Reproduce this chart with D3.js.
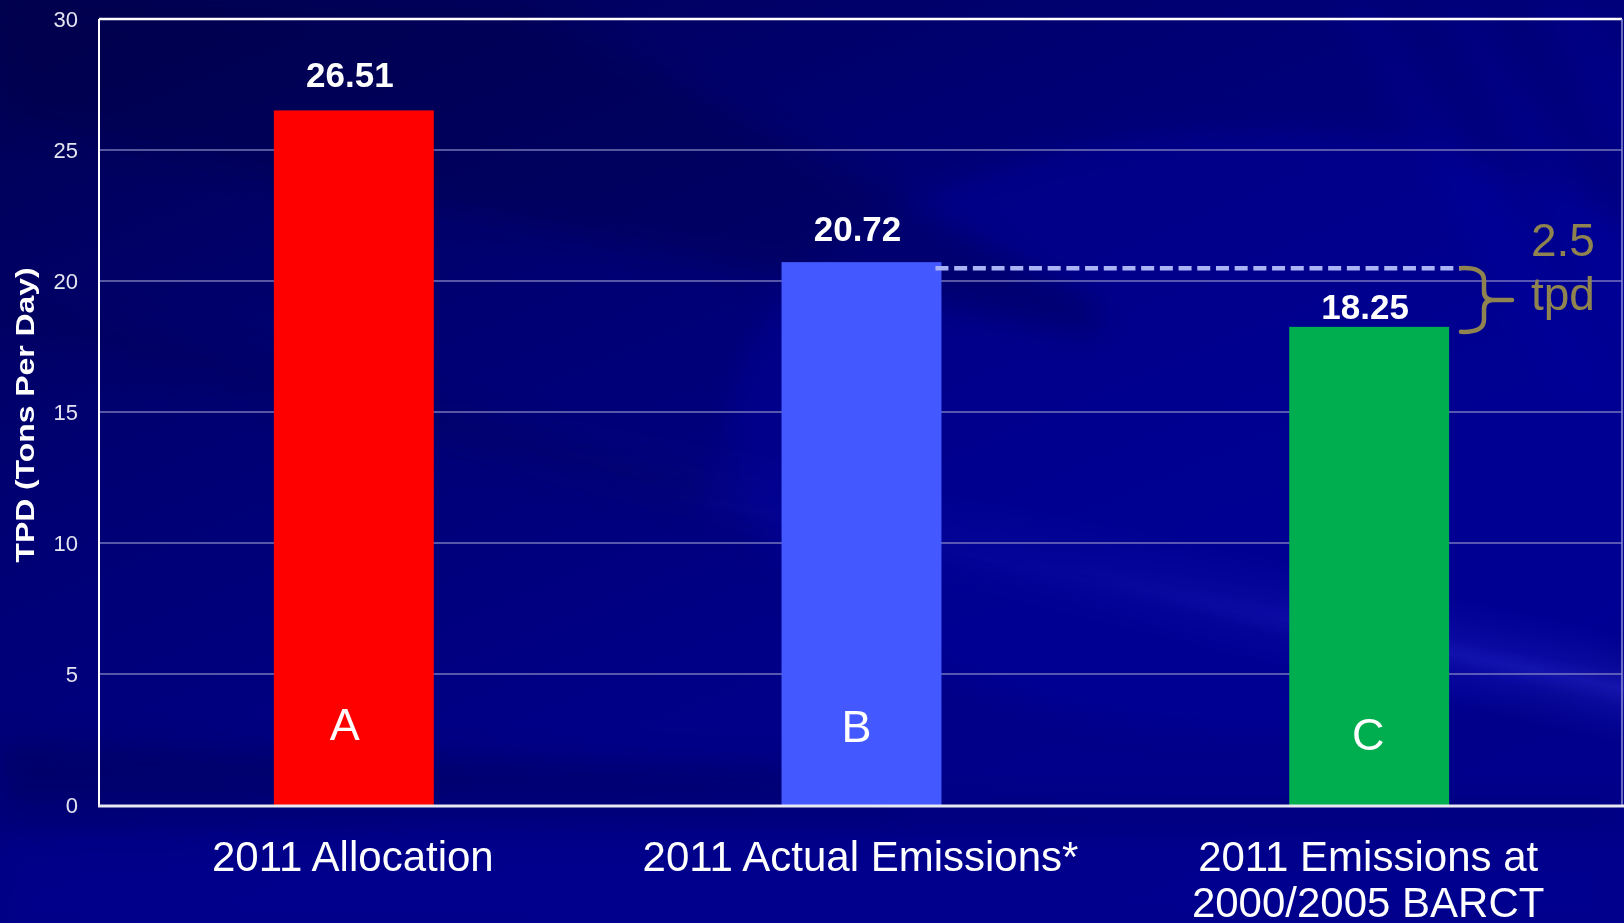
<!DOCTYPE html>
<html>
<head>
<meta charset="utf-8">
<script src="https://cdn.jsdelivr.net/npm/d3@7"></script>
<style>
  html, body { margin: 0; padding: 0; background: #00007a; overflow: hidden; }
  svg { display: block; }
  text { font-family: "Liberation Sans", Arial, sans-serif; }
</style>
</head>
<body>
<svg id="chart" width="1624" height="923"></svg>
<script>
// ---- data ----
const categories = ["2011 Allocation", "2011 Actual Emissions*", "2011 Emissions at\n2000/2005 BARCT"];
const values = [26.51, 20.72, 18.25];
const barLetters = ["A", "B", "C"];
const barColors = ["#ff0000", "#4359ff", "#00ae50"];
const yTicks = [0, 5, 10, 15, 20, 25, 30];
const yTitle = "TPD (Tons Per Day)";
const gapUnit = "tpd";

// ---- layout ----
const W = 1624, H = 923;
const plot = { left: 99, right: 1622, top: 19, bottom: 805 };

const svg = d3.select("#chart");
const defs = svg.append("defs");

// ---- background: navy slide with soft diagonal light streaks ----
const baseGrad = defs.append("linearGradient").attr("id", "bgBase")
  .attr("x1", 0).attr("y1", 0).attr("x2", 0.75).attr("y2", 1);
baseGrad.append("stop").attr("offset", 0).attr("stop-color", "#000052");
baseGrad.append("stop").attr("offset", 0.35).attr("stop-color", "#000072");
baseGrad.append("stop").attr("offset", 0.7).attr("stop-color", "#000088");
baseGrad.append("stop").attr("offset", 1).attr("stop-color", "#00008c");

const blur = defs.append("filter").attr("id", "soft")
  .attr("filterUnits", "userSpaceOnUse")
  .attr("x", -50).attr("y", -50).attr("width", W + 100).attr("height", H + 100);
blur.append("feGaussianBlur").attr("stdDeviation", 14);

// streak: soft across its width, fading in along its length
const across = defs.append("linearGradient").attr("id", "streakAcross")
  .attr("x1", 0).attr("y1", 0).attr("x2", 0).attr("y2", 1);
across.append("stop").attr("offset", 0).attr("stop-color", "#3a3ae8").attr("stop-opacity", 0);
across.append("stop").attr("offset", 0.5).attr("stop-color", "#3a3ae8").attr("stop-opacity", 0.5);
across.append("stop").attr("offset", 1).attr("stop-color", "#3a3ae8").attr("stop-opacity", 0);
const along = defs.append("linearGradient").attr("id", "streakAlong")
  .attr("x1", 0).attr("y1", 0).attr("x2", 1).attr("y2", 0);
along.append("stop").attr("offset", 0).attr("stop-color", "#fff").attr("stop-opacity", 0);
along.append("stop").attr("offset", 0.55).attr("stop-color", "#fff").attr("stop-opacity", 0.25);
along.append("stop").attr("offset", 1).attr("stop-color", "#fff").attr("stop-opacity", 1);
const alongMask = defs.append("mask").attr("id", "streakMask")
  .attr("maskContentUnits", "objectBoundingBox");
alongMask.append("rect").attr("width", 1).attr("height", 1).attr("fill", "url(#streakAlong)");

const bg = svg.append("g");
bg.append("rect").attr("width", W).attr("height", H).attr("fill", "url(#bgBase)");

const glow = bg.append("g").attr("filter", "url(#soft)");
// broad brighter area to the right
glow.append("ellipse").attr("cx", 1250).attr("cy", 430).attr("rx", 520).attr("ry", 300)
  .attr("fill", "#0808a0").attr("opacity", 0.4);
// dark diagonal bands in the upper left
glow.append("polygon").attr("points", "0,0 520,0 1100,300 1100,340 0,120")
  .attr("fill", "#000040").attr("opacity", 0.3);
glow.append("polygon").attr("points", "0,290 700,470 700,510 0,330")
  .attr("fill", "#000050").attr("opacity", 0.25);
glow.append("polygon").attr("points", "0,740 900,772 900,800 0,800")
  .attr("fill", "#000050").attr("opacity", 0.4);
// faint steep streaks in the upper right corner
[[1330, 1380], [1430, 1470], [1530, 1590]].forEach(([a, b]) => {
  glow.append("polygon")
    .attr("points", `${a},0 ${b},0 ${b + 240},400 ${a + 240},400`)
    .attr("fill", "#2a2ae0").attr("opacity", 0.08);
});
// dark shadow just below the axis, lighter strip at the bottom
glow.append("rect").attr("x", 0).attr("y", 808).attr("width", W).attr("height", 18)
  .attr("fill", "#000060").attr("opacity", 0.45);
glow.append("rect").attr("x", 0).attr("y", 840).attr("width", W).attr("height", 100)
  .attr("fill", "#000090").attr("opacity", 0.5);

// long light beam falling to the lower right
const beams = [
  { x: 150, y: 360, angle: 12.6, len: 1560, half: 55, op: 0.55 },
  { x: 400, y: 440, angle: 11.5, len: 1300, half: 18, op: 0.35 }
];
beams.forEach(b => {
  bg.append("g").attr("transform", `translate(${b.x},${b.y}) rotate(${b.angle})`)
    .attr("opacity", b.op)
    .append("rect").attr("x", 0).attr("y", -b.half).attr("width", b.len).attr("height", 2 * b.half)
    .attr("fill", "url(#streakAcross)").attr("mask", "url(#streakMask)");
});

// ---- scales ----
const x = d3.scaleBand().domain(categories)
  .range([plot.left, plot.right])
  .paddingInner(0.685).paddingOuter(0.685 / 2);
const y = d3.scaleLinear().domain([0, 30]).range([plot.bottom, plot.top]);

// ---- gridlines ----
svg.append("g")
  .selectAll("line").data(yTicks.filter(t => t > 0 && t < 30)).join("line")
  .attr("x1", plot.left).attr("x2", plot.right)
  .attr("y1", d => y(d)).attr("y2", d => y(d))
  .attr("stroke", "#8a8ac4").attr("stroke-width", 1.6).attr("opacity", 0.85);

// ---- y axis ticks via d3.axisLeft ----
const yAxis = svg.append("g").attr("transform", `translate(${plot.left},0)`)
  .call(d3.axisLeft(y).tickValues(yTicks).tickSize(0).tickPadding(21));
yAxis.select(".domain").remove();
yAxis.selectAll("text")
  .attr("fill", "#e4e4f0").attr("font-size", 22)
  .style("font-family", '"Liberation Sans", Arial, sans-serif');

// ---- bars ----
svg.append("g").selectAll("rect").data(values).join("rect")
  .attr("x", (d, i) => x(categories[i]) + 1)
  .attr("width", x.bandwidth())
  .attr("y", d => y(d))
  .attr("height", d => y(0) - y(d))
  .attr("fill", (d, i) => barColors[i]);

// ---- frame ----
const frame = svg.append("g").attr("stroke", "#ffffff").attr("fill", "none");
frame.append("line").attr("x1", plot.left).attr("x2", plot.right).attr("y1", plot.top).attr("y2", plot.top)
  .attr("stroke-width", 2.5);
frame.append("line").attr("x1", plot.left).attr("x2", plot.left).attr("y1", plot.top).attr("y2", plot.bottom)
  .attr("stroke-width", 2);
frame.append("line").attr("x1", plot.right).attr("x2", plot.right).attr("y1", plot.top).attr("y2", plot.bottom)
  .attr("stroke", "#8a8ad0").attr("stroke-width", 1.5);
frame.append("line").attr("x1", plot.left - 1).attr("x2", W).attr("y1", plot.bottom + 1).attr("y2", plot.bottom + 1)
  .attr("stroke", "#e8e8f0").attr("stroke-width", 3);

// ---- value labels above bars ----
const labelLift = [23, 21, 8];
svg.append("g").selectAll("text").data(values).join("text")
  .attr("x", (d, i) => x(categories[i]) + x.bandwidth() / 2 - 3)
  .attr("y", (d, i) => y(d) - labelLift[i])
  .attr("text-anchor", "middle")
  .attr("font-size", 35).attr("font-weight", "bold").attr("fill", "#ffffff")
  .text(d => d3.format(".2f")(d));

// ---- letters inside bars ----
const letterNudge = [[-8, 740], [-4, 742], [0, 750]];
svg.append("g").selectAll("text").data(barLetters).join("text")
  .attr("x", (d, i) => x(categories[i]) + x.bandwidth() / 2 + letterNudge[i][0])
  .attr("y", (d, i) => letterNudge[i][1])
  .attr("text-anchor", "middle")
  .attr("font-size", 45).attr("fill", "#ffffff")
  .text(d => d);

// ---- category labels ----
svg.append("g").selectAll("text").data(categories).join("text")
  .attr("x", d => x(d) + x.bandwidth() / 2)
  .attr("y", 871)
  .attr("text-anchor", "middle")
  .attr("font-size", 42).attr("fill", "#ffffff")
  .each(function (d) {
    const t = d3.select(this);
    d.split("\n").forEach((line, k) => {
      t.append("tspan").attr("x", x(d) + x.bandwidth() / 2).attr("dy", k === 0 ? 0 : 46).text(line);
    });
  });

// ---- y axis title ----
svg.append("text")
  .attr("transform", `translate(34,${(plot.top + plot.bottom) / 2 + 3}) rotate(-90)`)
  .attr("text-anchor", "middle")
  .attr("font-size", 25).attr("font-weight", "bold").attr("fill", "#ffffff")
  .attr("textLength", 295).attr("lengthAdjust", "spacingAndGlyphs")
  .text(yTitle);

// ---- gap annotation between B and C ----
const bIdx = 1, cIdx = 2;
const gapTop = y(values[bIdx]) + 6;
const gapBottom = y(values[cIdx]) + 5;
const gapMid = (gapTop + gapBottom) / 2;
const dashStart = x(categories[bIdx]) + x.bandwidth() - 5;
const braceX = 1461;

svg.append("line")
  .attr("x1", dashStart).attr("x2", braceX)
  .attr("y1", gapTop).attr("y2", gapTop)
  .attr("stroke", "#a9b3f6").attr("stroke-width", 4.5)
  .attr("stroke-dasharray", "13,5.7");

const olive = "#8f8450";
const bx = braceX + 23;
const brace = d3.path();
brace.moveTo(braceX, gapTop);
brace.quadraticCurveTo(bx, gapTop - 1, bx, gapTop + 12);
brace.lineTo(bx, gapMid - 9);
brace.quadraticCurveTo(bx, gapMid, bx + 9, gapMid);
brace.lineTo(bx + 28, gapMid);
brace.moveTo(bx + 9, gapMid);
brace.quadraticCurveTo(bx, gapMid, bx, gapMid + 9);
brace.lineTo(bx, gapBottom - 12);
brace.quadraticCurveTo(bx, gapBottom + 1, braceX, gapBottom);
svg.append("path").attr("d", brace.toString())
  .attr("fill", "none").attr("stroke", olive).attr("stroke-width", 4.5)
  .attr("stroke-linecap", "round").attr("stroke-linejoin", "round");

const gapText = svg.append("text").attr("font-size", 46).attr("fill", olive);
gapText.append("tspan").attr("x", 1531).attr("y", 256)
  .text(d3.format(".1f")(values[bIdx] - values[cIdx]));
gapText.append("tspan").attr("x", 1531).attr("y", 310).text(gapUnit);
</script>
</body>
</html>
